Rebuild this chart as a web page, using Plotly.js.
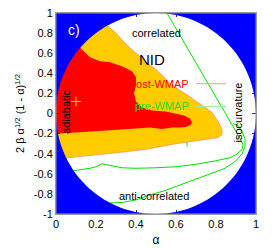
<!DOCTYPE html>
<html>
<head>
<meta charset="utf-8">
<script src="https://cdn.plot.ly/plotly-3.0.1.min.js"></script>
<style>html,body{margin:0;padding:0;background:#fff;}#chart{width:275px;height:248px;}</style>
</head>
<body>
<div id="chart"></div>
<script>
// post-WMAP 95% region (orange)
const orangeAlpha = [-0.05, 0.20, 0.26, 0.30, 0.35, 0.40, 0.45, 0.50, 0.53, 0.57, 0.62, 0.66, 0.70, 0.74, 0.78, 0.81, 0.83, 0.83, 0.81, 0.75, 0.67, 0.60, 0.52, 0.45, 0.35, 0.25, 0.15, 0.06, 0.03, -0.05];
const orangeY     = [1.05, 1.05, 0.87, 0.80, 0.69, 0.60, 0.51, 0.44, 0.38, 0.30, 0.23, 0.18, 0.12, 0.07, 0.01, -0.08, -0.16, -0.21, -0.24, -0.255, -0.275, -0.30, -0.33, -0.355, -0.38, -0.40, -0.42, -0.44, -0.48, -0.50];
// post-WMAP 68% region (red)
const redAlpha = [-0.05, 0.08, 0.125, 0.17, 0.22, 0.27, 0.33, 0.38, 0.40, 0.40, 0.39, 0.40, 0.43, 0.48, 0.55, 0.60, 0.64, 0.67, 0.68, 0.675, 0.65, 0.62, 0.58, 0.53, 0.47, 0.40, 0.30, 0.20, 0.10, 0.01, -0.05];
const redY     = [0.80, 0.80, 0.645, 0.56, 0.52, 0.51, 0.47, 0.42, 0.36, 0.28, 0.20, 0.12, 0.06, 0.03, 0.02, 0.00, -0.02, -0.05, -0.09, -0.11, -0.135, -0.14, -0.14, -0.155, -0.14, -0.15, -0.165, -0.18, -0.19, -0.20, -0.21];
// pre-WMAP contours (green)
const preInnerAlpha = [0.555, 0.62, 0.70, 0.80, 0.845, 0.88, 0.90, 0.92, 0.935, 0.93, 0.90, 0.87, 0.80, 0.70, 0.60, 0.50, 0.40, 0.33, 0.28, 0.23, 0.20, 0.17, 0.12, 0.07];
const preInnerY     = [1.00, 0.78, 0.51, 0.17, 0.01, -0.10, -0.18, -0.25, -0.31, -0.36, -0.41, -0.44, -0.47, -0.505, -0.53, -0.54, -0.545, -0.54, -0.52, -0.50, -0.53, -0.545, -0.56, -0.575];
const preOuterAlpha = [0.27, 0.33, 0.40, 0.47, 0.54, 0.62, 0.70, 0.77, 0.84, 0.88, 0.905, 0.93, 0.945, 0.945, 0.93, 0.91, 0.885];
const preOuterY     = [-0.89, -0.885, -0.86, -0.81, -0.77, -0.71, -0.655, -0.60, -0.55, -0.50, -0.46, -0.40, -0.33, -0.25, -0.18, -0.12, -0.10];
// best-fit points
const postBestAlpha = [0.10], postBestY = [0.12];
const preBestAlpha = [0.655], preBestY = [-0.265];
// tick labels
const xTicks = [0, 0.2, 0.4, 0.6, 0.8, 1];
const xTickText = ['0', '0.2', '0.4', '0.6', '0.8', '1'];
const yTicks = [-1, -0.8, -0.6, -0.4, -0.2, 0, 0.2, 0.4, 0.6, 0.8, 1];
const yTickText = ['-1', '-0.8', '-0.6', '-0.4', '-0.2', '0', '0.2', '0.4', '0.6', '0.8', '1'];

const FONT = 'Liberation Sans, Arial, Helvetica, sans-serif';
const GREEN = '#00e000';

const traces = [
  {x: preBestAlpha, y: preBestY, mode: 'markers', marker: {symbol: 'cross-thin', size: 9, line: {color: GREEN, width: 1}}, hoverinfo: 'skip'},
  {x: orangeAlpha, y: orangeY, mode: 'lines', fill: 'toself', fillcolor: '#ffcc00', line: {color: '#ff9060', width: 0.8}, hoverinfo: 'skip'},
  {x: redAlpha, y: redY, mode: 'lines', fill: 'toself', fillcolor: '#ff0000', line: {color: '#ff0000', width: 0}, hoverinfo: 'skip'},
  {x: postBestAlpha, y: postBestY, mode: 'markers', marker: {symbol: 'cross-thin', size: 7, line: {color: '#ffcc00', width: 1}}, hoverinfo: 'skip'},
  {x: preInnerAlpha, y: preInnerY, mode: 'lines', line: {color: GREEN, width: 1}, hoverinfo: 'skip'},
  {x: preOuterAlpha, y: preOuterY, mode: 'lines', line: {color: GREEN, width: 1}, hoverinfo: 'skip'}
];

const k = 0.27615;
const maskPath = 'M0,-1 L1,-1 L1,1 L0,1 Z ' +
  'M0,0 C0,0.5523 ' + (0.5 - k) + ',1 0.5,1 C' + (0.5 + k) + ',1 1,0.5523 1,0 ' +
  'C1,-0.5523 ' + (0.5 + k) + ',-1 0.5,-1 C' + (0.5 - k) + ',-1 0,-0.5523 0,0 Z';

const txt = (x, y, text, size, color, extra) => Object.assign({x: x, y: y, xref: 'x', yref: 'y', text: text, showarrow: false, font: {family: FONT, size: size, color: color}}, extra || {});

const layout = {
  width: 275, height: 248,
  margin: {l: 56, r: 19, t: 13, b: 34},
  paper_bgcolor: '#ffffff', plot_bgcolor: '#ffffff',
  showlegend: false,
  font: {family: FONT, size: 11, color: '#000'},
  xaxis: {range: [0, 1], tickvals: xTicks, ticktext: xTickText, ticks: 'inside', ticklen: 4, tickcolor: '#333',
          showgrid: false, zeroline: false, showline: true, linecolor: '#999', mirror: 'ticks',
          title: {text: 'α', font: {size: 12}, standoff: 6}, fixedrange: true},
  yaxis: {range: [-1, 1], tickvals: yTicks, ticktext: yTickText, ticks: 'inside', ticklen: 4, tickcolor: '#333',
          showgrid: false, zeroline: false, showline: true, linecolor: '#999', mirror: 'ticks',
          title: {text: '2 β α<sup>1/2</sup> (1 - α)<sup>1/2</sup>', font: {size: 11}, standoff: 6}, fixedrange: true},
  shapes: [
    {type: 'path', path: maskPath, xref: 'x', yref: 'y', fillcolor: '#0000ff', fillrule: 'evenodd', line: {width: 0}, layer: 'above'},
    {type: 'line', xref: 'x', yref: 'y', x0: 0.70, x1: 0.85, y0: 0.297, y1: 0.297, line: {color: '#ffaaaa', width: 1.2}, layer: 'above'},
    {type: 'line', xref: 'x', yref: 'y', x0: 0.70, x1: 0.85, y0: 0.07, y1: 0.07, line: {color: '#a0f0a0', width: 1.2}, layer: 'above'},
    {type: 'rect', xref: 'paper', yref: 'paper', x0: 0, x1: 1, y0: 0, y1: 1, line: {color: '#999', width: 1}, fillcolor: 'rgba(0,0,0,0)', layer: 'above'}
  ],
  annotations: [
    txt(0.09, 0.83, 'c)', 14, '#ffffff'),
    txt(0.50, 0.80, 'correlated', 11, '#000'),
    txt(0.48, 0.54, 'NID', 15, '#000'),
    txt(0.515, 0.29, 'post-WMAP', 11, '#ff0000'),
    txt(0.53, 0.07, 'pre-WMAP', 11, '#22dd22'),
    txt(0.49, -0.82, 'anti-correlated', 11, '#000'),
    txt(0.05, 0.015, 'adiabatic', 11, '#000', {textangle: -90}),
    txt(0.905, 0.01, 'isocurvature', 11, '#000', {textangle: -90})
  ]
};

Plotly.newPlot('chart', traces, layout, {staticPlot: true, displayModeBar: false});
</script>
</body>
</html>
